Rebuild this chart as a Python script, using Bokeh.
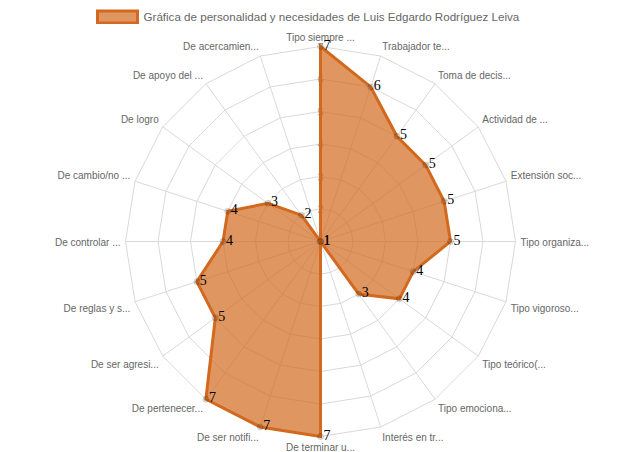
import numpy as np
from bokeh.plotting import figure
from bokeh.models import Range1d, ColumnDataSource, Legend, LegendItem
from bokeh.core.properties import value
from bokeh.embed import file_html
from bokeh.resources import INLINE

# ---- data ----
categories = ["Tipo siempre ...", "Trabajador te...", "Toma de decis...", "Actividad de ...",
              "Extensión soc...", "Tipo organiza...", "Tipo vigoroso...", "Tipo teórico(...",
              "Tipo emociona...", "Interés en tr...", "De terminar u...", "De ser notifi...",
              "De pertenecer...", "De ser agresi...", "De reglas y s...", "De controlar ...",
              "De cambio/no ...", "De logro", "De apoyo del ...", "De acercamien..."]
values = [7, 6, 5, 5, 5, 5, 4, 4, 3, 1, 7, 7, 7, 5, 5, 4, 4, 3, 2, 1]
tick_values = [2, 3, 4, 5, 6, 7]
scale_min, scale_max = 1, 7
series_name = "Gráfica de personalidad y necesidades de Luis Edgardo Rodríguez Leiva"

# ---- geometry (pixel units, centre of the radar at origin) ----
W, H = 639, 452
CX, CY = 320, 241                  # centre inside the figure
R = 195.0                          # radius of the outer ring
LABEL_PAD = 5
n = len(categories)
angles = np.arange(n) * 2 * np.pi / n    # clockwise from top


def radius(v):
    return (np.asarray(v, dtype=float) - scale_min) / (scale_max - scale_min) * R


def polar(r, a):
    return r * np.sin(a), r * np.cos(a)


p = figure(width=W, height=H, output_backend="svg", toolbar_location=None,
           x_range=Range1d(-CX, W - CX), y_range=Range1d(-(H - CY), CY),
           min_border=0, outline_line_color=None, background_fill_color="white")
p.axis.visible = False
p.grid.visible = False

GRID = "#d9d9d9"
# concentric rings
for t in tick_values:
    rx, ry = polar(radius(t), np.append(angles, angles[0]))
    p.line(rx, ry, line_color=GRID, line_width=1)
# angle lines
ox, oy = polar(R, angles)
p.segment(x0=np.zeros(n), y0=np.zeros(n), x1=ox, y1=oy, line_color=GRID, line_width=1)

# tick labels
p.text(x=np.zeros(len(tick_values)), y=radius(tick_values), text=[str(t) for t in tick_values],
       text_align="center", text_baseline="middle", text_color="#a0a0a0",
       text_font=value("Liberation Sans"), text_font_size="11px")

# point labels (Chart.js-like placement)
lx, ly = polar(R + LABEL_PAD, angles)
groups = {}
for i, a in enumerate(angles):
    deg = round(np.degrees(a), 6)
    if deg == 0 or deg == 180:
        align = "center"
    elif deg < 180:
        align = "left"
    else:
        align = "right"
    y = ly[i]
    if deg == 90 or deg == 270:
        y = y + 5
    elif deg > 270 or deg < 90:
        y = y + 10
    groups.setdefault(align, {"x": [], "y": [], "t": []})
    groups[align]["x"].append(lx[i])
    groups[align]["y"].append(y)
    groups[align]["t"].append(categories[i])
for align, g in groups.items():
    p.text(x=g["x"], y=g["y"], text=g["t"], text_align=align, text_baseline="top",
           text_color="#666666", text_font=value("Liberation Sans"), text_font_size="10px")

# dataset
vx, vy = polar(radius(values), angles)
src = ColumnDataSource(dict(x=vx, y=vy, lab=[str(v) for v in values]))
COL = "#d2691e"
patch = p.patch("x", "y", source=src, fill_color=COL, fill_alpha=0.7,
                line_color=COL, line_width=3, line_join="miter")
p.scatter("x", "y", source=src, size=6, fill_color="black", fill_alpha=0.12,
          line_color="black", line_alpha=0.12)
p.text("x", "y", text="lab", source=src, x_offset=3, y_offset=-2, text_align="left",
       text_baseline="alphabetic", text_color="black",
       text_font=value("Liberation Serif"), text_font_size="14px")

legend = Legend(items=[LegendItem(label=series_name, renderers=[patch])],
                location=(91.5, 428), orientation="horizontal",
                glyph_width=50, glyph_height=15, label_height=15, label_standoff=2,
                padding=0, margin=0, spacing=0,
                border_line_alpha=0, background_fill_alpha=0,
                label_text_font="Liberation Sans", label_text_font_size="11.6px",
                label_text_color="#666666", label_text_baseline="middle")
p.add_layout(legend, "center")

open("out.html", "w").write(file_html(p, INLINE))
